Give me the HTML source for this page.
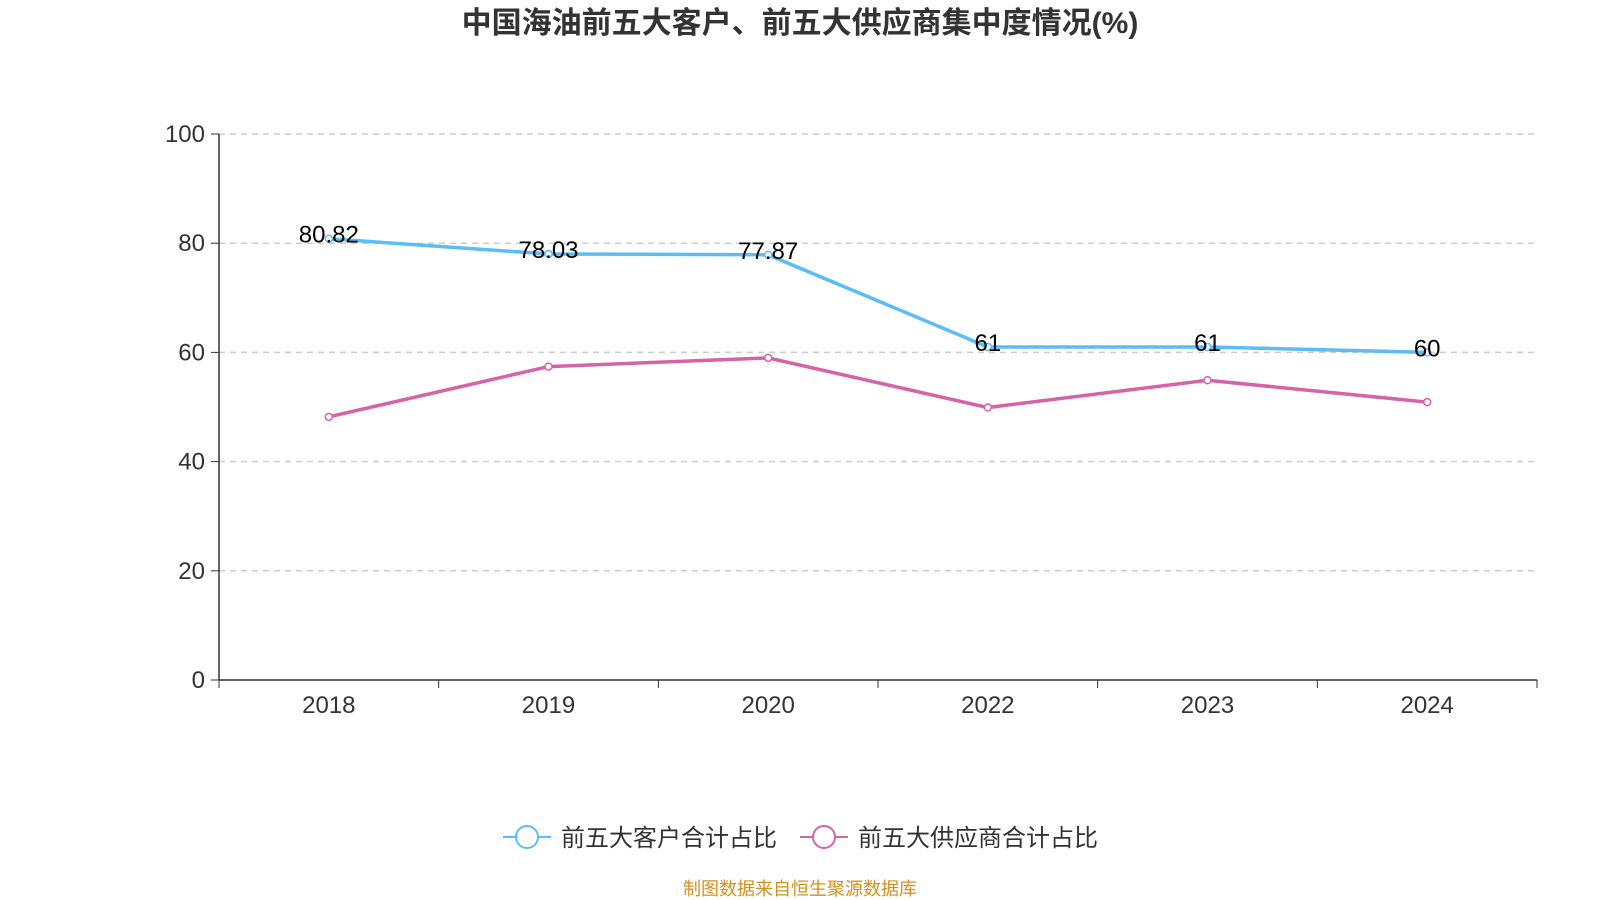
<!DOCTYPE html>
<html><head><meta charset="utf-8"><style>
body{margin:0;background:#fff;}
svg{display:block;font-family:"Liberation Sans","Noto Sans CJK SC",sans-serif;}
</style></head><body>
<svg id="chart" width="1600" height="900">
<text x="800" y="33" text-anchor="middle" font-size="30" font-weight="bold" fill="#333">中国海油前五大客户、前五大供应商集中度情况(%)</text>
<g id="grid"></g><g id="axes"></g><g id="series"></g>
<g>
<g>
<line x1="503" y1="837" x2="551" y2="837" stroke="#5bbdf5" stroke-width="2"/>
<circle cx="527" cy="837" r="11" fill="#fff" stroke="#5bbdf5" stroke-width="2"/>
<text x="561" y="846" font-size="24" fill="#333">前五大客户合计占比</text></g>
<g>
<line x1="800" y1="837" x2="848" y2="837" stroke="#d662a8" stroke-width="2"/>
<circle cx="824" cy="837" r="11" fill="#fff" stroke="#d662a8" stroke-width="2"/>
<text x="858" y="846" font-size="24" fill="#333">前五大供应商合计占比</text></g>
</g>
<text x="800" y="895" text-anchor="middle" font-size="18" fill="#d4901c">制图数据来自恒生聚源数据库</text>
</svg>
<script>
const categories=["2018","2019","2020","2022","2023","2024"];
const customers=[80.82,78.03,77.87,61,61,60];
const customerLabels=["80.82","78.03","77.87","61","61","60"];
const suppliers=[48.2,57.4,59.0,49.9,54.9,50.9];
const yTicks=[0,20,40,60,80,100];
const NS="http://www.w3.org/2000/svg";
const X0=219,X1=1537,Y0=680,Y1=134;
const bw=(X1-X0)/categories.length;
const xs=i=>X0+bw*(i+0.5);
const ys=v=>Y0-(v/100)*(Y0-Y1);
function mk(tag,attrs,parent){const e=document.createElementNS(NS,tag);for(const k in attrs)e.setAttribute(k,attrs[k]);parent.appendChild(e);return e;}
const grid=document.getElementById('grid'),axes=document.getElementById('axes'),series=document.getElementById('series');
yTicks.forEach(t=>{
 const y=ys(t);
 if(t>0){const g=mk('line',{x1:X0,x2:X1,y1:y,y2:y,stroke:'#ccc','stroke-dasharray':'6,5','stroke-width':1.5},grid);
 
 }
 mk('line',{x1:X0-8,x2:X0,y1:y,y2:y,stroke:'#333'},axes);
 const tx=mk('text',{x:X0-14,y:y+8,'text-anchor':'end','font-size':24,fill:'#333'},axes);tx.textContent=t;
 
 
});
mk('line',{x1:X0,x2:X0,y1:Y1,y2:Y0,stroke:'#333','stroke-width':1.5},axes);
mk('line',{x1:X0,x2:X1,y1:Y0,y2:Y0,stroke:'#333','stroke-width':1.5},axes);
for(let i=0;i<=categories.length;i++){mk('line',{x1:X0+bw*i,x2:X0+bw*i,y1:Y0,y2:Y0+8,stroke:'#333'},axes);}
categories.forEach((c,i)=>{const t=mk('text',{x:xs(i),y:Y0+33,'text-anchor':'middle','font-size':24,fill:'#333'},axes);t.textContent=c;
 
 });
function drawSeries(vals,color,name,labels){
 const p=mk('polyline',{points:vals.map((v,i)=>xs(i)+','+ys(v)).join(' '),fill:'none',stroke:color,'stroke-width':3.5},series);
 
 
 vals.forEach((v,i)=>{const c=mk('circle',{cx:xs(i),cy:ys(v),r:3.5,fill:'#fff',stroke:color,'stroke-width':1.5},series);
 
 
 if(labels){const t=mk('text',{x:xs(i),y:ys(v)+4,'text-anchor':'middle','font-size':24,fill:'#000'},series);t.textContent=labels[i];
 
 }});
}
drawSeries(suppliers,'#d662a8','suppliers',null);
drawSeries(customers,'#5bbdf5','customers',customerLabels);
</script>
</body></html>
